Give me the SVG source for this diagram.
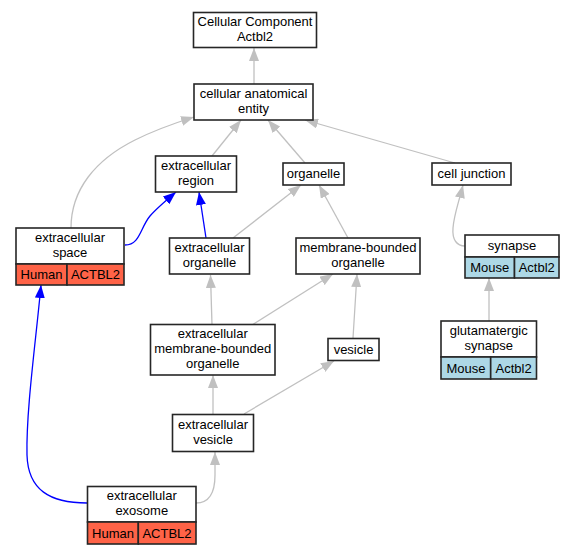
<svg xmlns="http://www.w3.org/2000/svg" width="575" height="555" viewBox="0 0 575 555">
<style>
text{font-family:"Liberation Sans",Arial,sans-serif;font-size:13px;fill:#000;text-anchor:middle}
.box{fill:#fff;stroke:#262626;stroke-width:1.6}
.hum{fill:#FF6347;stroke:#262626;stroke-width:1.6}
.mou{fill:#ADD8E6;stroke:#262626;stroke-width:1.6}
.e{fill:none;stroke:#C0C0C0;stroke-width:1.3}
.b{fill:none;stroke:#0000FF;stroke-width:1.3}
</style>
<defs>
<marker id="ag" viewBox="0 0 13 10" refX="13" refY="5" markerWidth="13" markerHeight="10" markerUnits="userSpaceOnUse" orient="auto"><path d="M0,0 L13,5 L0,10 z" fill="#C0C0C0"/></marker>
<marker id="ab" viewBox="0 0 13 10" refX="13" refY="5" markerWidth="13" markerHeight="10" markerUnits="userSpaceOnUse" orient="auto"><path d="M0,0 L13,5 L0,10 z" fill="#0000FF"/></marker>
</defs>
<rect width="575" height="555" fill="#fff"/>
<g id="connectors">
<path class="e" marker-end="url(#ag)" d="M254,84 L254,48"/>
<path class="e" marker-end="url(#ag)" d="M212,156 L241,120"/>
<path class="e" marker-end="url(#ag)" d="M305,163 L268,120"/>
<path class="e" marker-end="url(#ag)" d="M455,163 L305,120"/>
<path class="e" marker-end="url(#ag)" d="M71,228 C71,190 95,160 135,140 C155,130 175,123 194,117"/>
<path class="b" marker-end="url(#ab)" d="M125,245 C140,245 140,228 150,216 C156,209 163,203 176,192"/>
<path class="b" marker-end="url(#ab)" d="M206,238 L199,192"/>
<path class="e" marker-end="url(#ag)" d="M233,238 L301,185"/>
<path class="e" marker-end="url(#ag)" d="M348,238 L319,185"/>
<path class="e" marker-end="url(#ag)" d="M212,325 L210.5,275"/>
<path class="e" marker-end="url(#ag)" d="M252,325 L333,274"/>
<path class="e" marker-end="url(#ag)" d="M353,338 L357,274"/>
<path class="e" marker-end="url(#ag)" d="M213,414 L213,375"/>
<path class="e" marker-end="url(#ag)" d="M244,414 L334,361"/>
<path class="e" marker-end="url(#ag)" d="M196,503 C210,503 215,492 215,475 L215,452"/>
<path class="b" marker-end="url(#ab)" d="M87,503 C50,503 28,490 27,455 C26,410 36,340 41,285"/>
<path class="e" marker-end="url(#ag)" d="M465,246 C457,246 452,240 453,228 C454,215 458,205 463,185"/>
<path class="e" marker-end="url(#ag)" d="M489,321 L489,278"/>
</g>
<g id="cc"><rect class="box" x="193.5" y="12.5" width="123" height="35"/><text x="255" y="26">Cellular Component</text><text x="255" y="41">Actbl2</text></g>
<g id="cae"><rect class="box" x="194" y="84" width="119" height="36"/><text x="253.5" y="98">cellular anatomical</text><text x="253.5" y="113">entity</text></g>
<g id="er"><rect class="box" x="155.5" y="156" width="81" height="36"/><text x="196" y="170">extracellular</text><text x="196" y="185">region</text></g>
<g id="org"><rect class="box" x="283" y="163" width="61" height="22"/><text x="313.5" y="178">organelle</text></g>
<g id="cj"><rect class="box" x="432" y="163" width="79" height="22"/><text x="471.5" y="178">cell junction</text></g>
<g id="es"><rect class="box" x="16" y="228" width="108" height="36"/><rect class="hum" x="16" y="264" width="51" height="21"/><rect class="hum" x="67" y="264" width="57" height="21"/><text x="70" y="242">extracellular</text><text x="70" y="257">space</text><text x="41.5" y="279">Human</text><text x="95.5" y="279">ACTBL2</text></g>
<g id="eo"><rect class="box" x="169.5" y="238" width="80" height="36"/><text x="209.5" y="252">extracellular</text><text x="209.5" y="267">organelle</text></g>
<g id="mbo"><rect class="box" x="296" y="238" width="124" height="36"/><text x="358" y="252">membrane-bounded</text><text x="358" y="267">organelle</text></g>
<g id="syn"><rect class="box" x="465" y="235" width="94" height="22"/><rect class="mou" x="465" y="257" width="49.5" height="21"/><rect class="mou" x="514.5" y="257" width="44.5" height="21"/><text x="512" y="250">synapse</text><text x="489.75" y="272">Mouse</text><text x="536.75" y="272">Actbl2</text></g>
<g id="embo"><rect class="box" x="150.5" y="324.5" width="124.5" height="50.5"/><text x="212.75" y="338.2">extracellular</text><text x="212.75" y="353.2">membrane-bounded</text><text x="212.75" y="368.2">organelle</text></g>
<g id="ves"><rect class="box" x="328" y="338.5" width="51" height="22"/><text x="353.5" y="353.5">vesicle</text></g>
<g id="gs"><rect class="box" x="441" y="321" width="95.5" height="36"/><rect class="mou" x="441" y="357" width="49.7" height="22"/><rect class="mou" x="490.7" y="357" width="45.8" height="22"/><text x="488.75" y="335">glutamatergic</text><text x="488.75" y="350">synapse</text><text x="466" y="372.5">Mouse</text><text x="513.6" y="372.5">Actbl2</text></g>
<g id="ev"><rect class="box" x="172.5" y="414.5" width="81" height="37"/><text x="213" y="429">extracellular</text><text x="213" y="444">vesicle</text></g>
<g id="ee"><rect class="box" x="87.5" y="486.5" width="108.5" height="35.5"/><rect class="hum" x="87.5" y="522" width="50.8" height="22"/><rect class="hum" x="138.3" y="522" width="57.7" height="22"/><text x="141.75" y="500.3">extracellular</text><text x="141.75" y="515.3">exosome</text><text x="113" y="537.5">Human</text><text x="167" y="537.5">ACTBL2</text></g>
</svg>
